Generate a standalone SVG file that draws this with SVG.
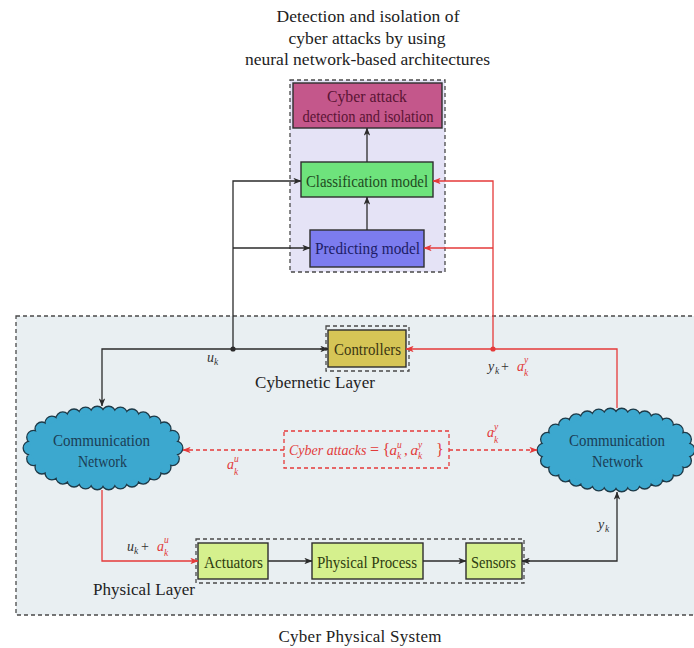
<svg xmlns="http://www.w3.org/2000/svg" width="694" height="648" viewBox="0 0 694 648">
  <style>
    .t { font-family: "Liberation Serif", "DejaVu Serif", serif; font-size: 15px; text-anchor: middle; fill: #222; }
    .nb { font-size: 17px; }
    .big { font-size: 17px; }
    .ttl { font-size: 17.5px; }
    .m { font-family: "Liberation Serif", "DejaVu Serif", serif; font-style: italic; font-size: 14px; fill: #333; }
    .s { font-size: 9.5px; }
    .up { font-style: normal; }
    .red { fill: #e23b3b; }
    .box { stroke: #2e2e2e; stroke-width: 1.4; }
    .dash { fill: none; stroke: #4a4a4a; stroke-width: 1.3; stroke-dasharray: 4 3; }
    .wire { fill: none; stroke: #2b2b2b; stroke-width: 1.3; }
    .wr { fill: none; stroke: #e53a3a; stroke-width: 1.3; }
    .wrd { fill: none; stroke: #e53a3a; stroke-width: 1.3; stroke-dasharray: 4 3; }
    .cloudEdge { fill: none; stroke: #1e3a48; stroke-width: 15; stroke-linecap: round; stroke-dasharray: 0 1; }
    .cloudBump { fill: none; stroke: #3ca8cf; stroke-width: 12.4; stroke-linecap: round; stroke-dasharray: 0 1; }
    .cloudBody { fill: #3ca8cf; stroke: none; }
  </style>
  <defs>
    <marker id="ah" viewBox="0 0 10 8" refX="9.5" refY="4" markerWidth="8" markerHeight="6.4" markerUnits="userSpaceOnUse" orient="auto">
      <path d="M0,0 L10,4 L0,8 L2.5,4 Z" fill="#2b2b2b"/>
    </marker>
    <marker id="ahr" viewBox="0 0 10 8" refX="9.5" refY="4" markerWidth="8" markerHeight="6.4" markerUnits="userSpaceOnUse" orient="auto">
      <path d="M0,0 L10,4 L0,8 L2.5,4 Z" fill="#e53a3a"/>
    </marker>
  </defs>

  <!-- white page -->
  <rect x="0" y="0" width="694" height="648" fill="#ffffff"/>

  <!-- title -->
  <g id="title">
    <text class="t ttl" x="368" y="22" textLength="183">Detection and isolation of</text>
    <text class="t ttl" x="367" y="44" textLength="157">cyber attacks by using</text>
    <text class="t ttl" x="367.5" y="65" textLength="245">neural network-based architectures</text>
  </g>

  <!-- detection block container -->
  <g id="detection-group">
    <rect x="290" y="80" width="155" height="192" fill="#e5e3f6"/>
    <rect class="dash" x="290" y="80" width="155" height="192"/>
  </g>

  <!-- cyber physical system container -->
  <g id="cps-group">
    <rect x="16" y="316" width="700" height="299" fill="#e9eff2"/>
    <rect class="dash" x="16" y="316" width="700" height="299"/>
    <text class="t big" x="360" y="642" textLength="163">Cyber Physical System</text>
  </g>

  <g id="cyber-attack-detection">
    <rect class="box" x="293" y="83" width="149" height="45" fill="#c4578b"/>
    <text class="t nb" x="367" y="102" style="fill:#5a1434" textLength="80" lengthAdjust="spacingAndGlyphs">Cyber attack</text>
    <text class="t nb" x="368" y="122" style="fill:#5a1434" textLength="131" lengthAdjust="spacingAndGlyphs">detection and isolation</text>
  </g>

  <g id="classification-model">
    <rect class="box" x="301" y="162" width="132" height="35" fill="#6ee37c"/>
    <text class="t nb" x="367" y="186.5" style="fill:#1f4a1f" textLength="122" lengthAdjust="spacingAndGlyphs">Classification model</text>
  </g>

  <g id="predicting-model">
    <rect class="box" x="310" y="230" width="114" height="37" fill="#7c7cef"/>
    <text class="t nb" x="367.5" y="254" style="fill:#1c1c66" textLength="105" lengthAdjust="spacingAndGlyphs">Predicting model</text>
  </g>

  <g id="controllers">
    <rect class="dash" x="326" y="326" width="83" height="45"/>
    <rect class="box" x="328" y="330" width="78" height="37" fill="#d6c556"/>
    <text class="t nb" x="367.5" y="355" style="fill:#3b3612" textLength="67" lengthAdjust="spacingAndGlyphs">Controllers</text>
    <text class="t big" x="315" y="388" textLength="120">Cybernetic Layer</text>
  </g>

  <g id="network-left">
    <path class="cloudEdge" pathLength="30" d="M176,448 A73,35 0 1 1 30,448 A73,35 0 1 1 176,448 Z"/>
    <path class="cloudBump" pathLength="30" d="M176,448 A73,35 0 1 1 30,448 A73,35 0 1 1 176,448 Z"/>
    <path class="cloudBody" d="M176,448 A73,35 0 1 1 30,448 A73,35 0 1 1 176,448 Z"/>
    <text class="t nb" x="101.5" y="446" style="fill:#1b3d55" textLength="97" lengthAdjust="spacingAndGlyphs">Communication</text>
    <text class="t nb" x="102.5" y="467" style="fill:#1b3d55" textLength="49" lengthAdjust="spacingAndGlyphs">Network</text>
  </g>

  <g id="network-right">
    <path class="cloudEdge" pathLength="30" d="M688,450 A72,35 0 1 1 544,450 A72,35 0 1 1 688,450 Z"/>
    <path class="cloudBump" pathLength="30" d="M688,450 A72,35 0 1 1 544,450 A72,35 0 1 1 688,450 Z"/>
    <path class="cloudBody" d="M688,450 A72,35 0 1 1 544,450 A72,35 0 1 1 688,450 Z"/>
    <text class="t nb" x="617" y="446" style="fill:#1b3d55" textLength="96" lengthAdjust="spacingAndGlyphs">Communication</text>
    <text class="t nb" x="617.5" y="467" style="fill:#1b3d55" textLength="51" lengthAdjust="spacingAndGlyphs">Network</text>
  </g>

  <g id="cyber-attacks">
    <rect x="284" y="431" width="165" height="37" fill="none" stroke="#e53a3a" stroke-width="1.3" stroke-dasharray="4 3"/>
    <text class="m red" y="455" style="font-size:16px"><tspan x="289" style="font-size:14px">Cyber attacks</tspan><tspan class="up" x="370">=</tspan><tspan class="up" x="382.5">{</tspan><tspan x="389.5" style="font-size:15px">a</tspan><tspan class="s" x="397" y="448">u</tspan><tspan class="s" x="397" y="459">k</tspan><tspan class="up" x="404" y="455" style="font-size:15px">,</tspan><tspan x="410.5" style="font-size:15px">a</tspan><tspan class="s" x="418" y="448">y</tspan><tspan class="s" x="418" y="459">k</tspan><tspan class="up" x="436" y="455">}</tspan></text>
  </g>

  <g id="physical-layer">
    <rect class="dash" x="196" y="539" width="328" height="44"/>
    <text class="t big" x="144" y="595" textLength="102">Physical Layer</text>
  </g>

  <g id="actuators">
    <rect class="box" x="198" y="543" width="70" height="36" fill="#d5f08d"/>
    <text class="t nb" x="233.5" y="567.5" style="fill:#2e3c10" textLength="59" lengthAdjust="spacingAndGlyphs">Actuators</text>
  </g>

  <g id="physical-process">
    <rect class="box" x="312" y="543" width="111" height="36" fill="#d5f08d"/>
    <text class="t nb" x="367" y="567.5" style="fill:#2e3c10" textLength="100" lengthAdjust="spacingAndGlyphs">Physical Process</text>
  </g>

  <g id="sensors">
    <rect class="box" x="466" y="543" width="56" height="36" fill="#d5f08d"/>
    <text class="t nb" x="493.5" y="567.5" style="fill:#2e3c10" textLength="45" lengthAdjust="spacingAndGlyphs">Sensors</text>
  </g>

  <!-- connectors -->
  <g id="connectors">
    <!-- control signal u_k -->
    <path class="wire" d="M328,349 H102 V406" marker-end="url(#ah)"/>
    <path class="wire" d="M320,349 H328" marker-end="url(#ah)"/>
    <path class="wire" d="M233,349 V181 H301" marker-end="url(#ah)"/>
    <path class="wire" d="M233,248 H310" marker-end="url(#ah)"/>
    <circle cx="233" cy="349" r="2.6" fill="#2b2b2b"/>

    <!-- detection pipeline -->
    <path class="wire" d="M367,230 V197" marker-end="url(#ah)"/>
    <path class="wire" d="M367,162 V128" marker-end="url(#ah)"/>

    <!-- physical chain -->
    <path class="wire" d="M268,561 H312" marker-end="url(#ah)"/>
    <path class="wire" d="M423,561 H466" marker-end="url(#ah)"/>
    <path class="wire" d="M522,561 H617 V492" marker-end="url(#ah)"/>
    <path class="wire" d="M530,561 H522" marker-end="url(#ah)"/>

    <!-- measurement path y_k + a_k^y -->
    <path class="wr" d="M617,408 V349 H406" marker-end="url(#ahr)"/>
    <path class="wr" d="M493,349 V181 H433" marker-end="url(#ahr)"/>
    <path class="wr" d="M493,248 H424" marker-end="url(#ahr)"/>
    <circle cx="493" cy="349" r="2.6" fill="#e53a3a"/>

    <!-- corrupted actuation u_k + a_k^u -->
    <path class="wr" d="M102,490 V561 H198" marker-end="url(#ahr)"/>

    <!-- injected attacks -->
    <path class="wrd" d="M284,450 H183" marker-end="url(#ahr)"/>
    <path class="wrd" d="M449,450 H537" marker-end="url(#ahr)"/>
  </g>

  <!-- signal labels -->
  <g id="labels">
    <text class="m" y="362"><tspan x="207">u</tspan><tspan class="s" x="214" y="365">k</tspan></text>

    <text class="m" y="371"><tspan x="488">y</tspan><tspan class="s" x="495" y="374">k</tspan><tspan class="up" x="501" y="371">+</tspan><tspan class="red" x="517">a</tspan><tspan class="s red" x="524" y="363">y</tspan><tspan class="s red" x="524" y="376">k</tspan></text>

    <text class="m red" y="469"><tspan x="227">a</tspan><tspan class="s" x="234" y="462">u</tspan><tspan class="s" x="234" y="475">k</tspan></text>

    <text class="m red" y="437"><tspan x="487">a</tspan><tspan class="s" x="494" y="430">y</tspan><tspan class="s" x="494" y="443">k</tspan></text>

    <text class="m" y="551"><tspan x="127">u</tspan><tspan class="s" x="134" y="554">k</tspan><tspan class="up" x="141" y="551">+</tspan><tspan class="red" x="157">a</tspan><tspan class="s red" x="164" y="543">u</tspan><tspan class="s red" x="164" y="556">k</tspan></text>

    <text class="m" y="529"><tspan x="598">y</tspan><tspan class="s" x="605" y="532">k</tspan></text>
  </g>
</svg>
